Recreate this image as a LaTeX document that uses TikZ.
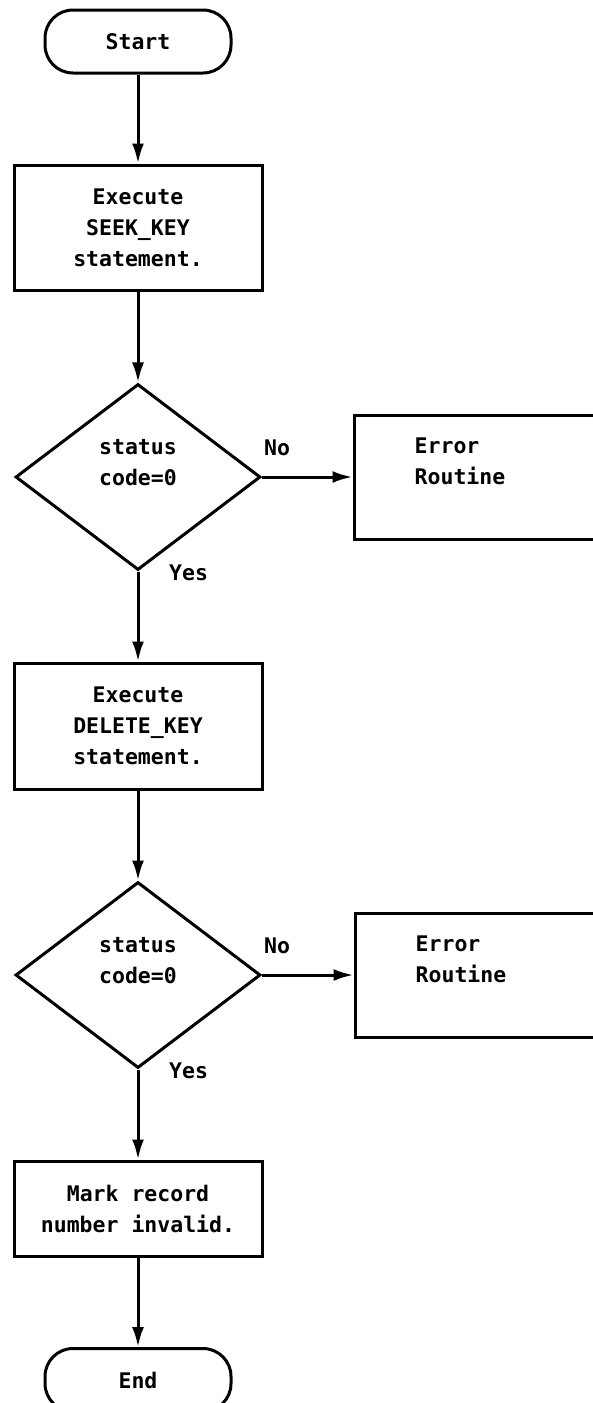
\documentclass[tikz,border=0pt]{standalone}
\usepackage{fontspec}
\setmonofont{DejaVu Sans Mono}
\usetikzlibrary{arrows.meta, positioning, shapes.geometric}

\begin{document}
\begin{tikzpicture}[x=1pt, y=-1pt, font=\ttfamily\bfseries\fontsize{21.5}{31}\selectfont]
    % Define styles
    \tikzstyle{terminal} = [rectangle, draw, line width=3pt, rounded corners=28pt, minimum width=186pt, minimum height=63pt, inner sep=0pt]
    \tikzstyle{block} = [rectangle, draw, line width=3pt, minimum width=248pt, inner sep=0pt, align=center]
    \tikzstyle{decision} = [diamond, draw, line width=3pt, minimum width=245pt, minimum height=186pt, inner sep=0pt]
    \tikzstyle{errbox} = [rectangle, draw, line width=3pt, minimum width=250pt, minimum height=124pt, inner sep=0pt]
    \tikzstyle{tag} = [inner sep=0pt]
    \tikzstyle{line} = [draw, line width=3pt, -{Latex[length=20pt, width=12pt]}]

    \useasboundingbox (0,0) rectangle (593,1403);

    % Main column
    \node[terminal] (start) at (138,41.5) {Start};
    \node[block, minimum height=125pt] (seek) at (138,227.5) {Execute\\SEEK\_KEY\\statement.};

    \node[decision] (test1) at (138,477) {};
    \node[tag, align=center] (test1txt) at ([yshift=14pt]test1.center) {status\\code=0};

    \node[block, minimum height=126pt] (delete) at (138,726) {Execute\\DELETE\_KEY\\statement.};

    \node[decision] (test2) at (138,975) {};
    \node[tag, align=center] (test2txt) at ([yshift=14pt]test2.center) {status\\code=0};

    \node[block, minimum height=95pt] (mark) at (138,1208.5) {Mark record\\number invalid.};
    \node[terminal] (end) at (138,1380) {End};

    % Error branches
    \node[errbox] (err1) at (479,477) {};
    \node[tag, anchor=north west, align=left] (err1txt) at ([xshift=62pt, yshift=-24pt]err1.north west) {Error\\Routine};
    \node[errbox] (err2) at (480,975) {};
    \node[tag, anchor=north west, align=left] (err2txt) at ([xshift=62pt, yshift=-24pt]err2.north west) {Error\\Routine};

    % Branch labels
    \node[tag, anchor=south west] (no1) at ([xshift=2pt, yshift=21pt]test1.east) {No};
    \node[tag, anchor=west] (yes1) at ([xshift=31pt, yshift=-1pt]test1.south) {Yes};
    \node[tag, anchor=south west] (no2) at ([xshift=2pt, yshift=21pt]test2.east) {No};
    \node[tag, anchor=west] (yes2) at ([xshift=31pt, yshift=-1pt]test2.south) {Yes};

    % Connections
    \draw[line] (start) -- (seek);
    \draw[line] (seek) -- (test1);
    \draw[line] (test1) -- (err1);
    \draw[line] (test1) -- (delete);
    \draw[line] (delete) -- (test2);
    \draw[line] (test2) -- (err2);
    \draw[line] (test2) -- (mark);
    \draw[line] (mark) -- (end);
\end{tikzpicture}
\end{document}
